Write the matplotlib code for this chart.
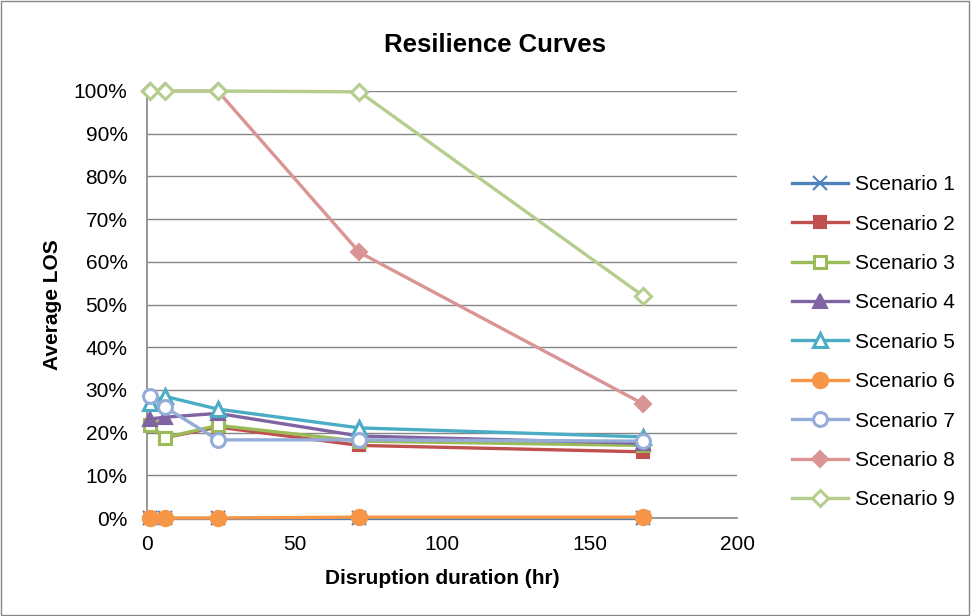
import numpy as np
import matplotlib.pyplot as plt
from matplotlib.patches import Rectangle

plt.rcParams['font.family'] = ['Liberation Sans', 'DejaVu Sans']

# disruption duration (hr)
hours = [1, 6, 24, 72, 168]

# average LOS per scenario (fraction)
s1 = [0.0, 0.0, 0.0, 0.0, 0.0]
s2 = [0.215, 0.188, 0.213, 0.170, 0.155]
s3 = [0.217, 0.188, 0.217, 0.180, 0.170]
s4 = [0.232, 0.236, 0.245, 0.192, 0.175]
s5 = [0.270, 0.285, 0.255, 0.211, 0.190]
s6 = [0.0, 0.0, 0.0, 0.002, 0.002]
s7 = [0.285, 0.260, 0.183, 0.183, 0.180]
s8 = [1.0, 1.0, 1.0, 0.622, 0.268]
s9 = [1.0, 1.0, 1.0, 0.998, 0.521]

names = ['Scenario %d' % i for i in range(1, 10)]
series = [s1, s2, s3, s4, s5, s6, s7, s8, s9]

colors = ['#4F81BD', '#C0504D', '#9BBB59', '#8064A2', '#4BACC6',
          '#F79646', '#94ACD8', '#D99594', '#B5CD8E']
markers = ['x', 's', 's', '^', '^', 'o', 'o', 'D', 'D']
filled = [True, True, False, True, False, True, False, True, False]
msizes = [10, 9, 9, 10, 10, 11, 10, 8, 8]

fig = plt.figure(figsize=(9.71, 6.16), dpi=100)
ax = fig.add_axes([147/971, 1-518/616, (737-147)/971, (518-91)/616])

for name, ys, c, m, f, ms in zip(names, series, colors, markers, filled, msizes):
    ax.plot(hours, ys, color=c, lw=2.4, marker=m, ms=ms,
            mfc=c if f else 'white', mec=c, mew=2.2 if not f else 1.5,
            label=name, clip_on=False, zorder=3)

ax.set_xlim(0, 200)
ax.set_ylim(0, 1.0)
ax.set_xticks(np.arange(0, 201, 50))
ax.set_yticks(np.arange(0, 1.01, 0.1))
ax.set_yticklabels(['%d%%' % round(v*100) for v in np.arange(0, 1.01, 0.1)])
ax.grid(axis='y', color='#868686', lw=1)
ax.set_axisbelow(True)
for sp in ['top', 'right']:
    ax.spines[sp].set_visible(False)
for sp in ['left', 'bottom']:
    ax.spines[sp].set_color('#868686')
    ax.spines[sp].set_linewidth(1.2)
ax.tick_params(axis='both', labelsize=15, length=0)
ax.tick_params(axis='y', pad=14)
ax.tick_params(axis='x', pad=12)

fig.text(495/971, 1-45/616, 'Resilience Curves', fontsize=18.5, fontweight='bold',
         ha='center', va='center')
ax.set_xlabel('Disruption duration (hr)', fontsize=15, fontweight='bold')
ax.set_ylabel('Average LOS', fontsize=15, fontweight='bold')
ax.xaxis.set_label_coords(0.5, (518-569)/427)
ax.yaxis.set_label_coords((62-147)/590, 0.5)

leg = ax.legend(loc='upper left', bbox_to_anchor=(1.094, 0.803), frameon=False,
                fontsize=15, handlelength=2.65, labelspacing=0.98,
                handletextpad=0.33, borderaxespad=0, borderpad=0)

fig.patches.append(Rectangle((0.001, 0.001), 0.997, 0.997, transform=fig.transFigure,
                             fill=False, edgecolor='#868686', lw=1))

fig.savefig('out.png', dpi=100)
